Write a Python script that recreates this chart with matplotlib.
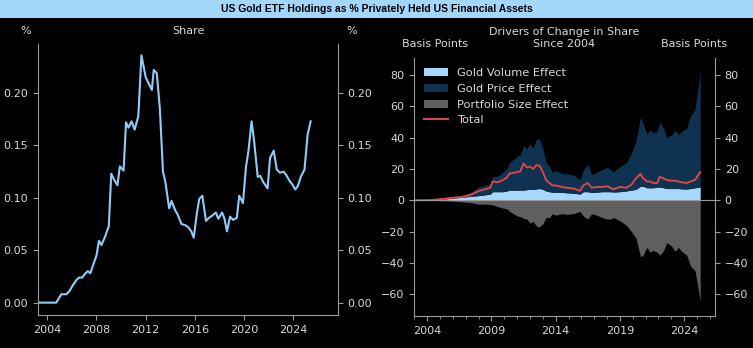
import matplotlib
matplotlib.use("Agg")
import matplotlib.pyplot as plt
from matplotlib import font_manager
from matplotlib.patches import Rectangle

# left panel: share of gold ETF holdings (%), decimal years
share_x = [2003.25, 2004.0, 2004.73, 2005.14, 2005.55, 2005.8, 2006.1, 2006.4, 2006.6, 2006.85,
           2007.1, 2007.3, 2007.5, 2007.7, 2008.0, 2008.2, 2008.4, 2008.7, 2009.0, 2009.2,
           2009.4, 2009.7, 2009.9, 2010.2, 2010.4, 2010.6, 2010.85, 2011.1, 2011.4, 2011.65,
           2012.0, 2012.2, 2012.5, 2012.65, 2012.9, 2013.15, 2013.4, 2013.6, 2013.9, 2014.1,
           2014.4, 2014.6, 2014.9, 2015.2, 2015.45, 2015.7, 2015.9, 2016.15, 2016.35, 2016.6,
           2016.9, 2017.15, 2017.4, 2017.7, 2017.9, 2018.2, 2018.4, 2018.6, 2018.85, 2019.1,
           2019.4, 2019.6, 2019.9, 2020.15, 2020.35, 2020.6, 2020.8, 2021.1, 2021.3, 2021.55,
           2021.9, 2022.1, 2022.4, 2022.65, 2022.9, 2023.2, 2023.4, 2023.7, 2023.9, 2024.15,
           2024.35, 2024.6, 2024.9, 2025.15, 2025.4]
share = [0.0, 0.0, 0.0, 0.008, 0.008, 0.011, 0.017, 0.022, 0.024, 0.024,
         0.028, 0.030, 0.028, 0.035, 0.045, 0.059, 0.055, 0.063, 0.073, 0.123,
         0.118, 0.112, 0.130, 0.126, 0.172, 0.167, 0.173, 0.165, 0.178, 0.236,
         0.215, 0.210, 0.203, 0.222, 0.219, 0.185, 0.125, 0.115, 0.090, 0.097,
         0.088, 0.084, 0.075, 0.074, 0.072, 0.068, 0.062, 0.085, 0.099, 0.102,
         0.078, 0.081, 0.083, 0.086, 0.080, 0.086, 0.080, 0.068, 0.082, 0.079,
         0.081, 0.102, 0.095, 0.130, 0.145, 0.173, 0.155, 0.120, 0.121, 0.115,
         0.109, 0.138, 0.145, 0.127, 0.124, 0.125, 0.122, 0.116, 0.113, 0.108,
         0.111, 0.120, 0.127, 0.160, 0.173]

# right panel: drivers of change since 2004 (basis points)
drv_x = [2003.0, 2004.0, 2004.5, 2005.0, 2005.5, 2006.0, 2006.5, 2007.0, 2007.5, 2008.0,
         2008.5, 2008.9, 2009.1, 2009.5, 2009.9, 2010.2, 2010.4, 2010.7, 2011.0, 2011.25,
         2011.5, 2011.75, 2012.0, 2012.25, 2012.5, 2012.75, 2013.0, 2013.25, 2013.5, 2013.75,
         2014.0, 2014.5, 2014.85, 2015.4, 2015.9, 2016.15, 2016.5, 2016.8, 2017.2, 2017.6,
         2018.0, 2018.25, 2018.5, 2019.0, 2019.5, 2019.9, 2020.25, 2020.6, 2020.8, 2021.1,
         2021.35, 2021.6, 2021.9, 2022.1, 2022.4, 2022.65, 2023.0, 2023.3, 2023.55, 2023.8,
         2024.2, 2024.5, 2024.85, 2025.25]
volume = [0, 0.1, 0.3, 0.6, 1.0, 1.5, 1.8, 2.2, 2.6, 3.0,
          3.5, 4.0, 5.5, 5.5, 5.5, 6.0, 6.5, 6.5, 6.5, 6.5,
          6.5, 6.8, 7.0, 7.0, 7.3, 7.5, 7.0, 6.0, 5.5, 5.2,
          5.0, 5.0, 4.8, 4.5, 4.0, 5.5, 5.5, 5.0, 5.2, 5.5,
          5.5, 5.5, 5.3, 5.5, 6.0, 6.5, 7.0, 9.0, 9.0, 8.0,
          8.0, 8.0, 8.5, 8.5, 8.0, 7.5, 7.5, 7.5, 7.5, 7.3,
          7.2, 7.5, 8.0, 8.5]
price = [0, 0.1, 0.2, 0.4, 0.5, 0.8, 1.0, 1.6, 2.9, 5.5,
         6.0, 6.5, 9.5, 10.0, 12.5, 14.0, 17.5, 19.5, 21.5, 22.5,
         28.5, 26.2, 29.0, 26.5, 31.7, 31.5, 26.0, 18.0, 16.5, 12.8,
         14.0, 12.0, 12.2, 11.5, 9.0, 14.0, 17.5, 11.5, 12.8, 14.0,
         15.5, 14.5, 12.7, 16.0, 18.0, 23.5, 31.0, 44.0, 40.0, 34.0,
         37.0, 35.0, 35.5, 41.5, 38.0, 32.5, 34.0, 37.5, 34.5, 36.7,
         38.8, 46.5, 50.0, 73.5]
portfolio = [0, -0.1, -0.2, -0.3, -0.4, -0.6, -0.9, -1.2, -1.6, -2.5,
             -2.5, -2.5, -3.0, -4.0, -5.0, -5.5, -7.0, -8.5, -10.0, -10.5,
             -11.5, -12.0, -14.5, -13.5, -16.5, -17.0, -15.0, -11.0, -11.0, -8.5,
             -9.5, -8.5, -9.0, -8.5, -7.0, -10.0, -12.0, -8.5, -9.5, -11.0,
             -12.0, -12.0, -11.0, -13.0, -16.0, -20.0, -24.0, -36.0, -35.0, -30.0,
             -33.0, -32.0, -33.0, -35.0, -32.0, -27.0, -29.0, -32.5, -30.0, -32.5,
             -35.0, -42.0, -45.0, -64.0]
price_top = [v + p for v, p in zip(volume, price)]
total = [v + p + q for v, p, q in zip(volume, price, portfolio)]

fg = "#d8d8d8"
spine_c = "#9a9a9a"
plt.rcParams["font.size"] = 8

# narrow bold font for the banner, if there is one
installed = {f.name for f in font_manager.fontManager.ttflist}
if "Liberation Sans Narrow" in installed:
    title_font = dict(family="Liberation Sans Narrow", fontsize=7.2)
else:
    title_font = dict(family=["Liberation Sans", "DejaVu Sans"], fontsize=7.5)

fig = plt.figure(figsize=(7.53, 3.48), dpi=100, facecolor="black")

# title banner
fig.patches.append(Rectangle((0, 0.948), 1, 0.052, transform=fig.transFigure,
                             facecolor="#a3d6fb", edgecolor="none"))
fig.text(0.5, 0.974, "US Gold ETF Holdings as % Privately Held US Financial Assets",
         ha="center", va="center", fontweight="bold", color="black", **title_font)


def style(ax):
    ax.set_facecolor("black")
    ax.spines["top"].set_visible(False)
    for s in ["left", "right", "bottom"]:
        ax.spines[s].set_color(spine_c)
    ax.tick_params(colors=spine_c, labelcolor=fg, right=True, labelright=True, labelsize=8)
    ax.tick_params(which="minor", colors=spine_c)


# left panel
ax1 = fig.add_axes([0.0505, 0.0948, 0.398, 0.7788])
style(ax1)
ax1.plot(share_x, share, color="#8fcdf8", lw=1.5)
ax1.set_xlim(2003.25, 2027.6)
ax1.set_ylim(-0.0118, 0.2468)
ax1.set_xticks([2004, 2008, 2012, 2016, 2020, 2024])
ax1.set_yticks([0.0, 0.05, 0.10, 0.15, 0.20])
ax1.set_yticklabels(["0.00", "0.05", "0.10", "0.15", "0.20"])
fig.text(25.7 / 753, 1 - 31 / 348, "%", color=fg, ha="center", va="center")
fig.text(188 / 753, 1 - 31 / 348, "Share", color=fg, ha="center", va="center")
fig.text(351.7 / 753, 1 - 31 / 348, "%", color=fg, ha="center", va="center")

# right panel
ax2 = fig.add_axes([0.5498, 0.092, 0.3997, 0.7414])
style(ax2)
ax2.fill_between(drv_x, 0, volume, color="#a6d8ff", lw=0, label="Gold Volume Effect")
ax2.fill_between(drv_x, volume, price_top, color="#0f3250", lw=0, label="Gold Price Effect")
ax2.fill_between(drv_x, 0, portfolio, color="#5f5f5f", lw=0, label="Portfolio Size Effect")
ax2.plot(drv_x, total, color="#d9474a", lw=1.4, label="Total")
ax2.axhline(0, color=spine_c, lw=0.8)
ax2.set_xlim(2002.97, 2026.4)
ax2.set_ylim(-73.8, 90.8)
ax2.set_xticks([2004, 2009, 2014, 2019, 2024])
ax2.set_xticks(range(2003, 2027), minor=True)
ax2.set_yticks([-60, -40, -20, 0, 20, 40, 60, 80])
leg = ax2.legend(loc="upper left", frameon=False, fontsize=8.2, bbox_to_anchor=(0.0, 1.0),
                 handlelength=2.1)
for t in leg.get_texts():
    t.set_color(fg)
fig.text(564.5 / 753, 1 - 31.7 / 348, "Drivers of Change in Share", color=fg, ha="center", va="center")
fig.text(564.5 / 753, 1 - 44.3 / 348, "Since 2004", color=fg, ha="center", va="center")
fig.text(435 / 753, 1 - 44.3 / 348, "Basis Points", color=fg, ha="center", va="center")
fig.text(694 / 753, 1 - 44.3 / 348, "Basis Points", color=fg, ha="center", va="center")

fig.savefig("out.png", dpi=100, facecolor="black")
